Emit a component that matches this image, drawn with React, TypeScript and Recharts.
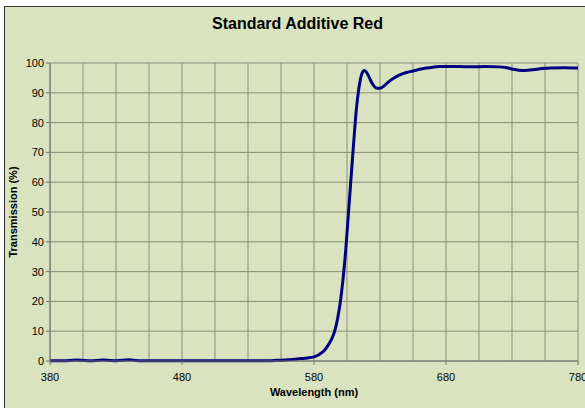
import { LineChart, Line, XAxis, YAxis, CartesianGrid } from 'recharts';

const wavelengths = [
  380, 390, 400, 405, 410, 420, 425, 430, 440, 445, 450, 460, 480, 500, 520, 540, 550,
  560, 565, 570, 575, 580, 584, 588, 591, 594, 596, 598, 600, 602, 604, 606, 608,
  610, 612, 614, 616, 618, 620, 622, 624, 626, 628, 630, 633, 636, 640, 645, 650, 655,
  660, 665, 670, 675, 680, 690, 700, 710, 720, 725, 730, 735, 740, 745, 750, 755, 760,
  770, 780,
];

const transmission = [
  0.1, 0.1, 0.3, 0.2, 0.1, 0.3, 0.2, 0.1, 0.4, 0.2, 0.1, 0.1, 0.1, 0.1, 0.1, 0.1, 0.2,
  0.4, 0.6, 0.8, 1.0, 1.4, 2.2, 3.6, 5.5, 8, 10.5, 14.5, 20, 27.5, 37, 49, 61,
  73, 84, 91.5, 96, 97.5, 96.8, 95, 93.2, 92, 91.5, 91.5, 92.3, 93.5, 94.8, 96, 96.8, 97.3,
  97.9, 98.3, 98.6, 98.8, 98.8, 98.8, 98.7, 98.8, 98.7, 98.5, 98, 97.6, 97.5, 97.7, 98, 98.2, 98.3,
  98.4, 98.3,
];

const xGridTicks = [380, 405, 430, 455, 480, 505, 530, 555, 580, 605, 630, 655, 680, 705, 730, 755, 780];
const xLabelTicks = [380, 480, 580, 680, 780];
const yTicks = [0, 10, 20, 30, 40, 50, 60, 70, 80, 90, 100];

const data = wavelengths.map((w, i) => ({ w, t: transmission[i] }));

const FONT = 'Arial, "Liberation Sans", sans-serif';

function XTick(props: { x?: number; y?: number; payload?: { value: number } }) {
  const { x = 0, y = 0, payload } = props;
  if (!payload || !xLabelTicks.includes(payload.value)) return null;
  return (
    <g>
      <line x1={x} y1={361} x2={x} y2={365} stroke="#707070" />
      <text x={x} y={381} textAnchor="middle" fontSize={11} fontFamily={FONT} fill="#000">
        {payload.value}
      </text>
    </g>
  );
}

export default function App() {
  return (
    <div
      style={{
        position: 'absolute',
        left: 0,
        top: 0,
        width: 585,
        height: 408,
        overflow: 'hidden',
        background: '#ffffff',
      }}
    >
      <div
        style={{
          position: 'absolute',
          left: 4,
          top: 6,
          width: 620,
          height: 440,
          background: '#D9E3BF',
          border: '1px solid #333',
        }}
      />
      <div
        style={{
          position: 'absolute',
          left: 0,
          top: 15,
          width: 595,
          textAlign: 'center',
          fontFamily: FONT,
          fontWeight: 'bold',
          fontSize: 16,
          color: '#000',
        }}
      >
        Standard Additive Red
      </div>
      <div style={{ position: 'absolute', left: 0, top: 0 }}>
        <LineChart
          width={585}
          height={408}
          data={data}
          margin={{ top: 63, right: 7, left: 0, bottom: 0 }}
        >
          <CartesianGrid stroke="#878F78" strokeWidth={1} />
          <XAxis
            dataKey="w"
            type="number"
            domain={[380, 780]}
            ticks={xGridTicks}
            interval={0}
            height={47}
            tick={<XTick />}
            tickLine={false}
            axisLine={{ stroke: '#707070' }}
            label={{
              value: 'Wavelength (nm)',
              position: 'insideBottom',
              offset: 12,
              style: { fontFamily: FONT, fontSize: 11, fontWeight: 'bold', fill: '#000' },
            }}
          />
          <YAxis
            type="number"
            domain={[0, 100]}
            ticks={yTicks}
            interval={0}
            width={50}
            tickSize={4}
            tickLine={{ stroke: '#707070' }}
            axisLine={{ stroke: '#707070' }}
            tick={{ fontSize: 11, fontFamily: FONT, fill: '#000' }}
            label={{
              value: 'Transmission (%)',
              angle: -90,
              position: 'insideLeft',
              offset: 13,
              style: { textAnchor: 'middle', fontFamily: FONT, fontSize: 11, fontWeight: 'bold', fill: '#000' },
            }}
          />
          <Line
            type="monotone"
            dataKey="t"
            stroke="#000080"
            strokeWidth={3}
            dot={false}
            isAnimationActive={false}
          />
        </LineChart>
      </div>
    </div>
  );
}
